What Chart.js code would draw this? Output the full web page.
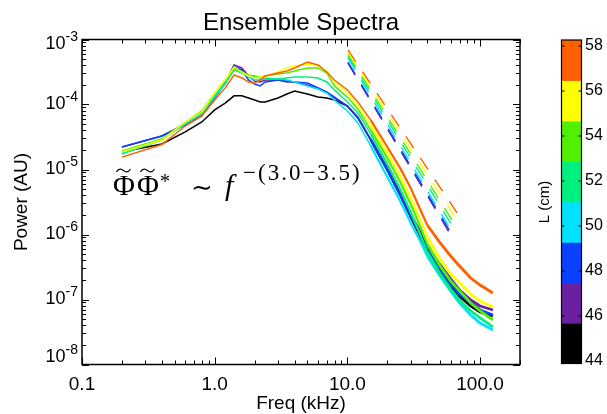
<!DOCTYPE html>
<html>
<head>
<meta charset="utf-8">
<script src="https://cdn.jsdelivr.net/npm/chart.js@4.4.0/dist/chart.umd.min.js"></script>
<style>
  html, body { margin: 0; padding: 0; background: #fff; }
  canvas { display: block; }
</style>
</head>
<body>
<canvas id="chart" width="607" height="414"></canvas>
<script>
// frequency grid (kHz) shared by all spectra
const freq = [0.2, 0.4, 0.6, 0.8, 1.0, 1.2, 1.4, 1.6, 1.8, 2.0, 2.2, 2.4, 3.0, 3.5, 4.0, 5.0, 6.0, 7.0, 8.0,
  10, 12, 15, 20, 25, 30, 35, 40, 50, 60, 70, 85, 100, 125];

// power spectra (AU), one per L position
const P44 = [1.86e-5, 2.47e-5, 3.78e-5, 5.38e-5, 8.24e-5, 1.05e-4, 1.36e-4, 1.36e-4, 1.26e-4, 1.17e-4, 1.09e-4, 1.09e-4, 1.26e-4, 1.45e-4, 1.61e-4, 1.45e-4, 1.30e-4, 1.26e-4, 1.17e-4,
  9.48e-5, 6.20e-5, 2.84e-5, 9.82e-6, 4.05e-6, 1.86e-6, 9.82e-7, 5.38e-7, 2.65e-7, 1.61e-7, 1.13e-7, 7.95e-8, 6.42e-8, 5.57e-8];
const P46 = [2.22e-5, 3.28e-5, 5.01e-5, 6.90e-5, 1.30e-4, 2.22e-4, 4.05e-4, 3.65e-4, 2.74e-4, 2.30e-4, 2.22e-4, 2.38e-4, 2.38e-4, 2.22e-4, 2.22e-4, 2.00e-4, 1.80e-4, 1.55e-4, 1.26e-4,
  9.48e-5, 6.42e-5, 2.94e-5, 1.05e-5, 4.34e-6, 2.07e-6, 1.17e-6, 6.66e-7, 3.40e-7, 2.07e-7, 1.40e-7, 9.82e-8, 7.95e-8, 6.90e-8];
const P48 = [2.22e-5, 3.28e-5, 4.84e-5, 6.66e-5, 1.26e-4, 2.14e-4, 3.78e-4, 3.40e-4, 2.38e-4, 2.07e-4, 1.93e-4, 2.22e-4, 2.38e-4, 2.30e-4, 2.22e-4, 2.14e-4, 1.80e-4, 1.55e-4, 1.30e-4,
  9.48e-5, 6.20e-5, 2.84e-5, 9.82e-6, 4.05e-6, 1.93e-6, 1.05e-6, 5.76e-7, 2.84e-7, 1.73e-7, 1.21e-7, 8.84e-8, 6.90e-8, 5.76e-8];
const P50 = [1.80e-5, 2.94e-5, 5.01e-5, 7.15e-5, 1.30e-4, 2.07e-4, 3.52e-4, 3.16e-4, 2.65e-4, 2.38e-4, 2.38e-4, 2.47e-4, 2.47e-4, 2.38e-4, 2.22e-4, 1.93e-4, 1.73e-4, 1.50e-4, 1.17e-4,
  7.95e-5, 5.20e-5, 2.30e-5, 7.67e-6, 3.28e-6, 1.50e-6, 8.24e-7, 4.67e-7, 2.30e-7, 1.36e-7, 8.84e-8, 5.76e-8, 4.34e-8, 3.40e-8];
const P52 = [1.73e-5, 2.84e-5, 5.20e-5, 7.40e-5, 1.36e-4, 2.14e-4, 3.40e-4, 3.05e-4, 2.74e-4, 2.65e-4, 2.56e-4, 2.56e-4, 2.47e-4, 2.56e-4, 2.65e-4, 2.65e-4, 2.56e-4, 2.22e-4, 1.67e-4,
  1.09e-4, 7.40e-5, 3.52e-5, 1.21e-5, 5.01e-6, 2.22e-6, 1.05e-6, 5.38e-7, 2.47e-7, 1.45e-7, 9.82e-8, 6.66e-8, 5.20e-8, 3.78e-8];
const P54 = [1.93e-5, 2.94e-5, 5.38e-5, 7.95e-5, 1.50e-4, 2.38e-4, 3.52e-4, 3.16e-4, 2.84e-4, 2.74e-4, 2.65e-4, 2.74e-4, 2.94e-4, 3.05e-4, 3.28e-4, 3.65e-4, 3.65e-4, 3.05e-4, 1.93e-4,
  1.30e-4, 8.52e-5, 4.05e-5, 1.50e-5, 6.42e-6, 2.94e-6, 1.40e-6, 7.15e-7, 3.28e-7, 1.93e-7, 1.36e-7, 8.84e-8, 6.66e-8, 4.84e-8];
const P56 = [1.86e-5, 2.84e-5, 5.38e-5, 7.67e-5, 1.50e-4, 2.38e-4, 3.78e-4, 3.16e-4, 2.74e-4, 2.56e-4, 2.65e-4, 2.65e-4, 3.16e-4, 3.65e-4, 3.91e-4, 4.20e-4, 3.91e-4, 3.28e-4, 2.22e-4,
  1.50e-4, 9.48e-5, 4.84e-5, 1.80e-5, 7.95e-6, 3.65e-6, 1.80e-6, 9.15e-7, 4.20e-7, 2.47e-7, 1.80e-7, 1.21e-7, 9.48e-8, 7.67e-8];
const P58 = [1.55e-5, 2.42e-5, 4.67e-5, 6.66e-5, 1.17e-4, 1.80e-4, 2.84e-4, 2.56e-4, 2.22e-4, 2.14e-4, 2.38e-4, 2.74e-4, 3.05e-4, 3.28e-4, 3.65e-4, 4.50e-4, 4.05e-4, 3.16e-4, 2.38e-4,
  1.67e-4, 1.09e-4, 5.76e-5, 2.22e-5, 1.05e-5, 5.20e-6, 2.56e-6, 1.40e-6, 7.40e-7, 4.67e-7, 3.28e-7, 2.14e-7, 1.67e-7, 1.26e-7];

const Lvalues = [44, 46, 48, 50, 52, 54, 56, 58];
const spectra = [P44, P46, P48, P50, P52, P54, P56, P58];
const colors = ['#000000', '#6a20a0', '#0a40ff', '#00e0ff', '#00f080', '#50f000', '#ffff00', '#ff6000'];

// power-law fits f^-(3.0-3.5): [start, end] frequency and power for each L (none drawn for L=44)
const fitFreq = [null, [10.1, 64], [10.1, 65], [10.1, 64], [10.1, 66], [10.1, 67], [10.1, 70], [10.1, 73]];
const fitPower = [null, [4.34e-4, 7.95e-7], [4.50e-4, 8.24e-7], [5.20e-4, 9.48e-7], [5.57e-4, 1.09e-6],
  [5.99e-4, 1.26e-6], [6.42e-4, 1.45e-6], [6.90e-4, 1.67e-6]];

// axis ticks
const xTickValues = [0.1, 1, 10, 100];
const xTickLabels = ['0.1', '1.0', '10.0', '100.0'];
const yTickValues = [1e-3, 1e-4, 1e-5, 1e-6, 1e-7, 1e-8];
const yTickExps = ['-3', '-4', '-5', '-6', '-7', '-8'];
const cbTicks = [44, 46, 48, 50, 52, 54, 56, 58];

const SANS = '"Liberation Sans", Arial, Helvetica, sans-serif';
const SERIF = '"Liberation Serif", "DejaVu Serif", serif';

const datasets = [];
spectra.forEach((p, i) => {
  datasets.push({
    label: 'L = ' + Lvalues[i] + ' cm',
    data: freq.map((f, j) => ({ x: f, y: p[j] })),
    borderColor: colors[i],
    borderWidth: 1.5,
    pointRadius: 0,
    order: 30 - i,
    // spectra get noisy (visually thicker) at high frequency
    segment: { borderWidth: ctx => ctx.p0.parsed.x >= 40 ? 2.8 : ctx.p0.parsed.x >= 15 ? 2.2 : 1.5 }
  });
});
fitFreq.forEach((ff, i) => {
  if (!ff) return;
  datasets.push({
    label: 'fit ' + Lvalues[i],
    data: ff.map((f, j) => ({ x: f, y: fitPower[i][j] })),
    borderColor: colors[i],
    borderWidth: 1.4,
    borderDash: [14, 12],
    pointRadius: 0,
    order: 10 - i
  });
});

function tilde(c, cx, cy) {
  c.beginPath();
  c.moveTo(cx - 7, cy + 1.5);
  c.bezierCurveTo(cx - 4.5, cy - 3, cx - 1.5, cy - 1, cx, cy);
  c.bezierCurveTo(cx + 1.5, cy + 1, cx + 4.5, cy + 3, cx + 7, cy - 1.5);
  c.lineWidth = 1.2;
  c.stroke();
}

const decor = {
  id: 'decor',
  afterDraw(chart) {
    const c = chart.ctx, a = chart.chartArea;
    const xs = chart.scales.x, ys = chart.scales.y;
    c.save();
    c.strokeStyle = '#000';
    c.fillStyle = '#000';

    // inward ticks on all four sides
    c.lineWidth = 1;
    c.beginPath();
    for (let e = -1; e <= 2; e++) {
      for (let m = 1; m <= 9; m++) {
        const v = m * Math.pow(10, e);
        if (v > xs.max) break;
        const px = Math.round(xs.getPixelForValue(v)) + 0.5;
        const len = m === 1 ? 7 : 4;
        c.moveTo(px, a.bottom); c.lineTo(px, a.bottom - len);
        c.moveTo(px, a.top); c.lineTo(px, a.top + len);
      }
    }
    for (let e = -8; e <= -3; e++) {
      for (let m = 1; m <= 9; m++) {
        const v = m * Math.pow(10, e);
        if (v > ys.max * 1.0001) break;
        const py = Math.round(ys.getPixelForValue(v)) + 0.5;
        const len = m === 1 ? 7 : 4;
        c.moveTo(a.left, py); c.lineTo(a.left + len, py);
        c.moveTo(a.right, py); c.lineTo(a.right - len, py);
      }
    }
    c.stroke();
    c.lineWidth = 1.5;
    c.strokeRect(a.left, a.top, a.right - a.left, a.bottom - a.top);

    // x tick labels
    c.font = '19px ' + SANS;
    c.textAlign = 'center';
    c.textBaseline = 'alphabetic';
    xTickValues.forEach((v, i) => c.fillText(xTickLabels[i], xs.getPixelForValue(v), 390));

    // y tick labels 10^n
    c.textAlign = 'right';
    c.textBaseline = 'middle';
    yTickValues.forEach((v, i) => {
      let py = ys.getPixelForValue(v);
      if (i === 0) py += 5;
      if (i === yTickValues.length - 1) py -= 7;
      c.font = '14px ' + SANS;
      const ws = c.measureText(yTickExps[i]).width;
      c.fillText(yTickExps[i], 78, py - 7);
      c.font = '18px ' + SANS;
      c.fillText('10', 78 - ws, py);
    });

    // titles
    c.textAlign = 'center';
    c.textBaseline = 'alphabetic';
    c.font = '24px ' + SANS;
    c.fillText('Ensemble Spectra', (a.left + a.right) / 2, 30);
    c.font = '19px ' + SANS;
    c.fillText('Freq (kHz)', (a.left + a.right) / 2, 409);
    c.save();
    c.translate(22, (a.top + a.bottom) / 2);
    c.rotate(-Math.PI / 2);
    c.textBaseline = 'middle';
    c.fillText('Power (AU)', 0, 0);
    c.restore();

    // formula
    c.textAlign = 'left';
    c.font = '30px ' + SERIF;
    c.fillText('\u03A6', 113, 195);
    c.fillText('\u03A6', 137, 195);
    tilde(c, 123.5, 170.5);
    tilde(c, 147.5, 170.5);
    c.font = '20px ' + SERIF;
    c.fillText('*', 160, 188);
    c.font = '26px "DejaVu Serif", serif';
    c.fillText('\u223C', 191, 196);
    c.font = 'italic 30px ' + SERIF;
    c.fillText('f', 225, 195);
    c.font = '23px ' + SERIF;
    c.letterSpacing = '2px';
    c.fillText('\u2212(3.0\u22123.5)', 243, 180);
    c.letterSpacing = '0px';

    // colour bar
    const cbL = 561.5, cbR = 581.5, cbT = 40, cbB = 363.5;
    const bandH = (cbB - cbT) / colors.length;
    colors.forEach((col, i) => {
      c.fillStyle = col;
      c.fillRect(cbL, cbB - (i + 1) * bandH, cbR - cbL, bandH + 0.5);
    });
    c.strokeStyle = '#000';
    c.lineWidth = 1.2;
    c.strokeRect(cbL, cbT, cbR - cbL, cbB - cbT);
    c.fillStyle = '#000';
    c.font = '16px ' + SANS;
    c.textAlign = 'left';
    c.textBaseline = 'middle';
    c.lineWidth = 1;
    c.beginPath();
    cbTicks.forEach(v => {
      const py = 46 + (58 - v) * 22.5;
      c.fillText(String(v), 585, py);
      c.moveTo(cbL, py); c.lineTo(cbL + 3, py);
      c.moveTo(cbR, py); c.lineTo(cbR - 3, py);
    });
    c.stroke();
    c.save();
    c.translate(545, 202);
    c.rotate(-Math.PI / 2);
    c.textAlign = 'center';
    c.font = '15px ' + SANS;
    c.fillText('L (cm)', 0, 0);
    c.restore();

    c.restore();
  }
};

new Chart(document.getElementById('chart'), {
  type: 'line',
  data: { datasets },
  options: {
    responsive: false,
    animation: false,
    layout: { padding: { left: 82, right: 87, top: 39.5, bottom: 49.5 } },
    scales: {
      x: { type: 'logarithmic', min: 0.1, max: 200, display: false },
      y: { type: 'logarithmic', min: 1e-8, max: 1e-3, display: false }
    },
    plugins: { legend: { display: false }, tooltip: { enabled: false } }
  },
  plugins: [decor]
});
</script>
</body>
</html>
